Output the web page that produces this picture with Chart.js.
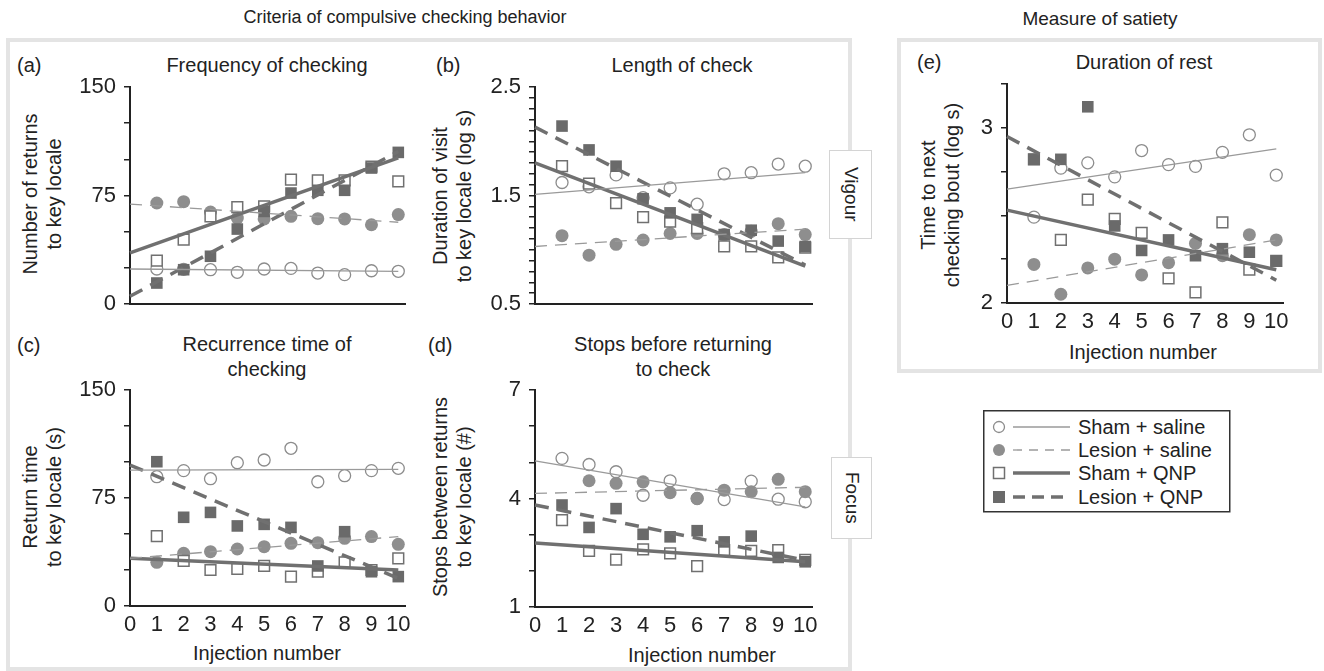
<!DOCTYPE html>
<html><head><meta charset="utf-8">
<script src="https://cdn.jsdelivr.net/npm/chart.js@4.4.0/dist/chart.umd.min.js"></script>
<style>
body{margin:0;background:#fff;}
#root{position:relative;width:1324px;height:671px;overflow:hidden;font-family:"Liberation Sans",Arial,sans-serif;color:#222;}
.t{position:absolute;white-space:nowrap;transform:translate(-50%,-50%);font-size:20px;line-height:25px;text-align:center;}
.l{position:absolute;white-space:nowrap;transform:translate(0,-50%);font-size:20px;line-height:24px;}
.yt{position:absolute;white-space:nowrap;transform:translate(-50%,-50%) rotate(-90deg);font-size:20px;line-height:24px;text-align:center;}
.box{position:absolute;box-sizing:border-box;border:4px solid #e4e4e4;}
canvas{position:absolute;}
.side{position:absolute;box-sizing:border-box;border:1px solid #d4d4d4;background:#fff;display:flex;align-items:center;justify-content:center;}
.side span{writing-mode:vertical-rl;font-size:19px;}
</style></head><body>
<div id="root">
  <div class="box" style="left:6px;top:38px;width:846px;height:633px;"></div>
  <div class="box" style="left:897px;top:38px;width:425px;height:335px;"></div>

  <div class="t" style="left:405px;top:17px;font-size:18px;">Criteria of compulsive checking behavior</div>
  <div class="t" style="left:1100px;top:18px;font-size:19px;">Measure of satiety</div>

  <div class="l" style="left:17px;top:65px;">(a)</div>
  <div class="t" style="left:267px;top:65px;">Frequency of checking</div>
  <div class="l" style="left:436px;top:65px;">(b)</div>
  <div class="t" style="left:682px;top:65px;">Length of check</div>
  <div class="l" style="left:17px;top:345px;">(c)</div>
  <div class="t" style="left:267px;top:357px;">Recurrence time of<br>checking</div>
  <div class="l" style="left:428px;top:345px;">(d)</div>
  <div class="t" style="left:673px;top:357px;">Stops before returning<br>to check</div>
  <div class="l" style="left:917px;top:62px;">(e)</div>
  <div class="t" style="left:1144px;top:62px;">Duration of rest</div>

  <div class="yt" style="left:42px;top:194px;">Number of returns<br>to key locale</div>
  <div class="yt" style="left:452px;top:196px;">Duration of visit<br>to key locale (log s)</div>
  <div class="yt" style="left:42px;top:497px;">Return time<br>to key locale (s)</div>
  <div class="yt" style="left:452px;top:497px;">Stops between returns<br>to key locale (#)</div>
  <div class="yt" style="left:940px;top:195px;">Time to next<br>checking bout (log s)</div>

  <div class="t" style="left:267px;top:653px;">Injection number</div>
  <div class="t" style="left:702px;top:655px;">Injection number</div>
  <div class="t" style="left:1143px;top:352px;">Injection number</div>

  <canvas id="ca" width="350" height="265" style="left:70px;top:63px;"></canvas>
  <canvas id="cb" width="352" height="265" style="left:475px;top:63px;"></canvas>
  <canvas id="cc" width="350" height="274" style="left:70px;top:366px;"></canvas>
  <canvas id="cd" width="352" height="275" style="left:475px;top:366px;"></canvas>
  <canvas id="ce" width="351" height="277" style="left:947px;top:60px;"></canvas>

  <div class="side" style="left:829px;top:150px;width:43px;height:89px;"><span>Vigour</span></div>
  <div class="side" style="left:831px;top:457px;width:41px;height:82px;"><span>Focus</span></div>

  <svg style="position:absolute;left:983px;top:410px;" width="248" height="103">
    <rect x="0.75" y="0.75" width="246" height="101" fill="none" stroke="#333" stroke-width="1.5"/>
    <circle cx="16" cy="17" r="5.5" fill="#fff" stroke="#8c8c8c" stroke-width="1.3"/>
    <line x1="30" y1="17" x2="87" y2="17" stroke="#9a9a9a" stroke-width="1.3"/>
    <circle cx="16" cy="40" r="6" fill="#8e8e8e"/>
    <line x1="30" y1="40" x2="87" y2="40" stroke="#9a9a9a" stroke-width="1.3" stroke-dasharray="9 7"/>
    <rect x="10.5" y="57.5" width="11" height="11" fill="#fff" stroke="#707070" stroke-width="1.5"/>
    <line x1="30" y1="63" x2="87" y2="63" stroke="#707070" stroke-width="3.5"/>
    <rect x="10" y="81" width="12" height="12" fill="#6a6a6a"/>
    <line x1="30" y1="87" x2="87" y2="87" stroke="#707070" stroke-width="3.5" stroke-dasharray="12 7"/>
  </svg>
  <div class="l" style="left:1078px;top:427px;">Sham + saline</div>
  <div class="l" style="left:1078px;top:450px;">Lesion + saline</div>
  <div class="l" style="left:1078px;top:473px;">Sham + QNP</div>
  <div class="l" style="left:1078px;top:497px;">Lesion + QNP</div>
</div>
<script>
// ---------- data ----------
const injections = [1, 2, 3, 4, 5, 6, 7, 8, 9, 10];
const xTickValues = [0, 1, 2, 3, 4, 5, 6, 7, 8, 9, 10];
const seriesNames = ['Sham + saline', 'Lesion + saline', 'Sham + QNP', 'Lesion + QNP'];

// (a) Frequency of checking
const aShamSaline   = [24.2, 24.0, 23.7, 21.9, 24.2, 24.6, 21.4, 20.3, 23.0, 22.6];
const aLesionSaline = [69.8, 70.7, 63.6, 59.4, 58.8, 60.6, 59.0, 58.8, 54.8, 61.8];
const aShamQNP      = [30.0, 44.5, 60.6, 67.0, 67.5, 86.0, 85.5, 85.5, 95.0, 84.8];
const aLesionQNP    = [14.5, 23.7, 33.0, 51.8, 64.0, 76.7, 78.6, 78.6, 94.0, 104.8];
const aFitShamSaline = [24.2, 22.6];
const aFitLesionSaline = [69.1, 56.5];
const aFitShamQNP = [35.3, 101.0];
const aFitLesionQNP = [5.3, 105.5];
const aYTicks = [0, 25, 50, 75, 100, 125, 150];
const aYLabels = [0, 75, 150];

// (b) Length of check
const bShamSaline   = [1.62, 1.58, 1.69, 1.48, 1.57, 1.42, 1.70, 1.71, 1.79, 1.77];
const bLesionSaline = [1.13, 0.95, 1.05, 1.09, 1.15, 1.15, 1.14, 1.17, 1.24, 1.14];
const bShamQNP      = [1.77, 1.61, 1.43, 1.30, 1.26, 1.20, 1.03, 1.03, 0.93, 1.02];
const bLesionQNP    = [2.14, 1.92, 1.77, 1.47, 1.34, 1.28, 1.14, 1.18, 1.08, 1.03];
const bFitShamSaline = [1.51, 1.71];
const bFitLesionSaline = [1.03, 1.19];
const bFitShamQNP = [1.80, 0.85];
const bFitLesionQNP = [2.13, 0.86];
const bYTicks = [0.5, 0.6, 0.7, 0.8, 0.9, 1.0, 1.1, 1.2, 1.3, 1.4, 1.5, 1.6, 1.7, 1.8, 1.9, 2.0, 2.1, 2.2, 2.3, 2.4, 2.5];
const bYLabels = [0.5, 1.5, 2.5];

// (c) Recurrence time of checking
const cShamSaline   = [89.8, 94.0, 88.4, 99.5, 101.4, 109.5, 86.3, 90.5, 94.0, 95.6];
const cLesionSaline = [30.3, 36.6, 37.7, 39.6, 41.2, 43.5, 44.0, 47.0, 48.2, 42.8];
const cShamQNP      = [48.6, 31.3, 25.0, 25.7, 27.8, 20.4, 23.8, 30.3, 25.0, 33.1];
const cLesionQNP    = [100.2, 61.6, 65.0, 55.6, 56.7, 54.6, 27.8, 51.6, 23.8, 20.4];
const cFitShamSaline = [94.4, 94.9];
const cFitLesionSaline = [33.1, 48.2];
const cFitShamQNP = [33.1, 25.0];
const cFitLesionQNP = [97.9, 19.2];
const cYTicks = [0, 25, 50, 75, 100, 125, 150];
const cYLabels = [0, 75, 150];

// (d) Stops before returning to check
const dShamSaline   = [5.11, 4.94, 4.74, 4.09, 4.49, 4.00, 3.97, 4.48, 3.98, 3.91];
const dLesionSaline = [null, 4.49, 4.42, 4.46, 4.16, 4.00, 4.23, 4.19, 4.53, 4.19];
const dShamQNP      = [3.40, 2.55, 2.31, 2.59, 2.48, 2.13, 2.57, 2.55, 2.57, 2.30];
const dLesionQNP    = [3.82, 3.20, 3.72, 3.01, 2.94, 3.11, 2.80, 2.96, 2.37, 2.25];
const dFitShamSaline = [5.04, 3.77];
const dFitLesionSaline = [4.14, 4.31];
const dFitShamQNP = [2.77, 2.25];
const dFitLesionQNP = [3.82, 2.29];
const dYTicks = [1, 2, 3, 4, 5, 6, 7];
const dYLabels = [1, 4, 7];

// (e) Duration of rest
const eShamSaline   = [2.49, 2.77, 2.80, 2.72, 2.87, 2.79, 2.78, 2.86, 2.96, 2.73];
const eLesionSaline = [2.22, 2.05, 2.20, 2.25, 2.16, 2.23, 2.34, 2.27, 2.39, 2.36];
const eShamQNP      = [2.82, 2.36, 2.59, 2.48, 2.40, 2.14, 2.06, 2.46, 2.19, 2.24];
const eLesionQNP    = [2.82, 2.82, 3.12, 2.44, 2.30, 2.36, 2.27, 2.31, 2.29, 2.24];
const eFitShamSaline = [2.65, 2.88];
const eFitLesionSaline = [2.10, 2.36];
const eFitShamQNP = [2.53, 2.19];
const eFitLesionQNP = [2.95, 2.13];
const eYTicks = [2, 2.25, 2.5, 2.75, 3, 3.25];
const eYLabels = [2, 3];

// ---------- helpers ----------
const FONT = '"Liberation Sans", Arial, sans-serif';
const INK = '#222';

function pts(vals) { return injections.map((x, i) => ({ x: x, y: vals[i] })); }
function fitPts(ends) { return [{ x: xTickValues[0], y: ends[0] }, { x: xTickValues[xTickValues.length - 1], y: ends[1] }]; }

const markerStyles = [
  { pointStyle: 'circle', pointRadius: 6, pointBackgroundColor: '#fff', pointBorderColor: '#8c8c8c', pointBorderWidth: 1.3 },
  { pointStyle: 'circle', pointRadius: 6.5, pointBackgroundColor: '#8e8e8e', pointBorderColor: '#8e8e8e', pointBorderWidth: 0 },
  { pointStyle: 'rect', pointRadius: 7.6, pointBackgroundColor: '#fff', pointBorderColor: '#707070', pointBorderWidth: 1.5 },
  { pointStyle: 'rect', pointRadius: 8.2, pointBackgroundColor: '#6a6a6a', pointBorderColor: '#6a6a6a', pointBorderWidth: 0 }
];
const lineStyles = [
  { borderColor: '#9a9a9a', borderWidth: 1.3, borderDash: [] },
  { borderColor: '#9a9a9a', borderWidth: 1.3, borderDash: [12, 8] },
  { borderColor: '#707070', borderWidth: 3.5, borderDash: [] },
  { borderColor: '#707070', borderWidth: 3.5, borderDash: [14, 9] }
];

function makePanel(id, p) {
  const datasets = [];
  p.fits.forEach((f, i) => {
    datasets.push(Object.assign({
      label: seriesNames[i] + ' fit', data: fitPts(f), showLine: true,
      pointRadius: 0, borderCapStyle: 'butt', fill: false, clip: false
    }, lineStyles[i]));
  });
  [3, 2, 1, 0].forEach(i => {
    datasets.push(Object.assign({
      label: seriesNames[i], data: pts(p.series[i]), showLine: false, clip: false
    }, markerStyles[i]));
  });
  new Chart(document.getElementById(id), {
    type: 'scatter',
    data: { datasets },
    options: {
      responsive: false, animation: false, devicePixelRatio: 1,
      layout: { padding: { top: 24, right: 15, bottom: p.padBottom, left: 0 } },
      plugins: { legend: { display: false }, tooltip: { enabled: false } },
      scales: {
        x: {
          type: 'linear', min: 0, max: 10.25,
          afterBuildTicks: s => { s.ticks = xTickValues.map(v => ({ value: v })); },
          afterFit: s => { s.height = p.xH; },
          grid: { display: false, drawTicks: false, tickLength: 0 },
          border: { display: true, color: INK, width: 2 },
          ticks: { display: p.showX, autoSkip: false, padding: 6, color: INK, font: { family: FONT, size: 22 }, maxRotation: 0,
                   callback: v => String(v) }
        },
        y: {
          type: 'linear', min: p.yTicks[0], max: p.yTicks[p.yTicks.length - 1],
          afterBuildTicks: s => { s.ticks = p.yTicks.map(v => ({ value: v })); },
          afterFit: s => { s.width = 60; },
          grid: { display: true, drawOnChartArea: false, drawTicks: true, tickLength: 6, tickColor: INK, lineWidth: 1.5 },
          border: { display: true, color: INK, width: 2 },
          ticks: { autoSkip: false, padding: 8, color: INK, font: { family: FONT, size: 22 },
                   callback: v => (p.yLabels.some(l => Math.abs(l - v) < 1e-6) ? String(v) : '') }
        }
      }
    }
  });
}

makePanel('ca', { padBottom: 24, xH: 0, showX: false, yTicks: aYTicks, yLabels: aYLabels,
  series: [aShamSaline, aLesionSaline, aShamQNP, aLesionQNP],
  fits: [aFitShamSaline, aFitLesionSaline, aFitShamQNP, aFitLesionQNP] });
makePanel('cb', { padBottom: 24, xH: 0, showX: false, yTicks: bYTicks, yLabels: bYLabels,
  series: [bShamSaline, bLesionSaline, bShamQNP, bLesionQNP],
  fits: [bFitShamSaline, bFitLesionSaline, bFitShamQNP, bFitLesionQNP] });
makePanel('cc', { padBottom: 4, xH: 30, showX: true, yTicks: cYTicks, yLabels: cYLabels,
  series: [cShamSaline, cLesionSaline, cShamQNP, cLesionQNP],
  fits: [cFitShamSaline, cFitLesionSaline, cFitShamQNP, cFitLesionQNP] });
makePanel('cd', { padBottom: 4, xH: 30, showX: true, yTicks: dYTicks, yLabels: dYLabels,
  series: [dShamSaline, dLesionSaline, dShamQNP, dLesionQNP],
  fits: [dFitShamSaline, dFitLesionSaline, dFitShamQNP, dFitLesionQNP] });
makePanel('ce', { padBottom: 4, xH: 30, showX: true, yTicks: eYTicks, yLabels: eYLabels,
  series: [eShamSaline, eLesionSaline, eShamQNP, eLesionQNP],
  fits: [eFitShamSaline, eFitLesionSaline, eFitShamQNP, eFitLesionQNP] });
</script>
</body></html>
